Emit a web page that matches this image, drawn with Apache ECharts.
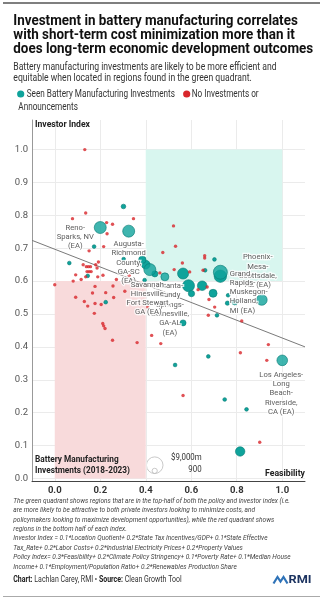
<!DOCTYPE html>
<html><head><meta charset="utf-8">
<script src="https://cdn.jsdelivr.net/npm/echarts@6/dist/echarts.min.js"></script>
<style>html,body{margin:0;padding:0;background:#fff}#c{width:324px;height:600px}</style>
</head><body><div id="c"></div>
<script>
// ---------------- DATA ----------------
const xTicks = [0.0, 0.2, 0.4, 0.6, 0.8, 1.0];
const yTicks = [0.0, 0.1, 0.2, 0.3, 0.4, 0.5, 0.6, 0.7, 0.8, 0.9, 1.0];

// regions with battery manufacturing investments: [policy/feasibility, investor index, investment $m]
const investedPoints = [
  [0.302,0.827,700],[0.173,0.705,450],[0.064,0.655,450],[0.145,0.616,450],[0.224,0.536,450],
  [0.303,0.667,450],[0.385,0.665,1800],[0.400,0.650,2500],[0.440,0.622,1200],[0.395,0.603,450],
  [0.564,0.623,4000],[0.661,0.633,450],[0.702,0.666,450],[0.728,0.615,5000],[0.588,0.586,4700],
  [0.648,0.586,3000],[0.601,0.562,1300],[0.696,0.563,2090],[0.762,0.557,450],[0.759,0.533,600],
  [0.791,0.536,1000],[0.713,0.496,450],[0.564,0.473,1175],[0.675,0.371,450],[0.529,0.345,450],
  [0.747,0.240,450],[0.843,0.210,450],[0.815,0.082,2900]
];
// labelled regions (drawn in this order)
const labelledNames = [
  'Reno-\nSparks, NV\n(EA)',
  'Augusta-\nRichmond\nCounty,\nGA-SC\n(EA)',
  'Atlanta-\nSandy\nSprings-\nGainesville,\nGA-AL\n(EA)',
  'Savannah-\nHinesville-\nFort Stewart,\nGA (EA)',
  'Phoenix-\nMesa-\nScottsdale,\nAZ (EA)',
  'Grand\nRapids-\nMuskegon-\nHolland,\nMI (EA)',
  'Los Angeles-\nLong\nBeach-\nRiverside,\nCA (EA)'
];
const labelledPoints = [
  [0.200,0.763,4700],[0.325,0.752,4700],[0.484,0.613,2090],[0.418,0.635,4700],
  [0.910,0.543,3800],[0.728,0.627,6400],[1.000,0.359,3700]
];
// regions with no investments or announcements: [feasibility, investor index]
const noInvestmentPoints = [
  [0.132,1.000],[0.136,0.807],[0.078,0.790],[0.228,0.778],[0.254,0.773],[0.346,0.790],[0.230,0.744],
  [0.151,0.692],[0.215,0.705],[0.475,0.687],[0.522,0.768],[0.531,0.706],[0.659,0.677],[0.659,0.670],
  [0.561,0.655],[0.525,0.635],[0.462,0.625],[0.593,0.628],[0.652,0.633],[0.670,0.582],[0.630,0.574],
  [0.678,0.544],[0.703,0.521],[0.675,0.496],[0.822,0.479],[0.939,0.407],[0.816,0.382],[0.932,0.359],
  [0.564,0.252],[0.901,0.110],[0.426,0.435],[0.466,0.410],[0.409,0.521],[0.362,0.413],[0.254,0.420],
  [0.211,0.471],[0.215,0.464],[0.221,0.456],[0.174,0.502],[0.145,0.524],[0.177,0.532],[0.204,0.529],
  [0.130,0.538],[0.092,0.551],[0.259,0.550],[0.166,0.564],[0.224,0.565],[0.308,0.569],[0.177,0.584],
  [0.256,0.585],[0.000,0.589],[0.081,0.600],[0.116,0.605],[0.092,0.619],[0.136,0.613],[0.189,0.613],
  [0.212,0.618],[0.271,0.605],[0.142,0.629],[0.151,0.629],[0.160,0.629],[0.125,0.650],[0.139,0.644],
  [0.148,0.644],[0.157,0.644],[0.180,0.650],[0.192,0.658],[0.186,0.640],[0.327,0.617]
];
const greenQuadrant = [[0.4, 0.6], [1.0, 1.0]];
const redQuadrant = [[0.0, 0.0], [0.4, 0.6]];
const trendLine = [[-0.1, 0.724], [1.1, 0.400]];
const bubbleLegendValues = [9000, 900];
const bubbleLegendLabels = ['$9,000m', '900'];

const titleLines = [
  'Investment in battery manufacturing correlates',
  'with short-term cost minimization more than it',
  'does long-term economic development outcomes'
];
const subtitleLines = [
  'Battery manufacturing investments are likely to be more efficient and',
  'equitable when located in regions found in the green quadrant.'
];
const noteLines = [
  'The green quadrant shows regions that are in the top-half of both the policy and investor index (i.e.',
  'are more likely to be attractive to both private investors looking to minimize costs, and',
  'policymakers looking to maximize development opportunities), while the red quadrant shows',
  'regions in the bottom half of each index.',
  'Investor Index = 0.1*Location Quotient+ 0.2*State Tax Incentives/GDP+ 0.1*State Effective',
  'Tax_Rate+ 0.2*Labor Costs+ 0.2*Industrial Electricity Prices+ 0.2*Property Values',
  'Policy Index= 0.3*Feasibility+ 0.2*Climate Policy Stringency+ 0.1*Poverty Rate+ 0.1*Median House',
  'Income+ 0.1*Employment/Population Ratio+ 0.2*Renewables Production Share'
];

// ---------------- STYLE ----------------
const TEAL = '#0fa39b', TEAL_EDGE = '#0a7c76', RED = '#d8262b';
const F = 'Roboto, "Noto Sans", sans-serif';
const ctx = document.createElement('canvas').getContext('2d');
function mw(font, s) { ctx.font = font; return ctx.measureText(s).width; }
function fitScale(font, s, target) { return target / mw(font, s); }
function diam(v) { return Math.max(3.4, 16.6 * Math.sqrt(v / 9000)); }

function textEl(x, y, text, font, fill, scale, align) {
  align = align || 'left';
  return { type: 'text', x: x, y: y, scaleX: scale || 1, silent: true, z: 100,
    style: { text: text, font: font, fill: fill, align: align, verticalAlign: 'middle',
             textAlign: align, textVerticalAlign: 'middle' } };
}

// label placement (style)
const labelStyle = [
  { offset: [-25, 9.5], align: 'center' },
  { offset: [0, 31.5], align: 'center' },
  { offset: [5, 32.5], align: 'center' },
  { offset: [-1.5, 29], align: 'center' },
  { offset: [-4, -28.5], align: 'center' },
  { offset: [9.5, 20], align: 'left' },
  { offset: [-1, 33], align: 'center' }
];
const labelFontSize = 9 * 44 / mw('9px ' + F, 'Los Angeles-');

const graphics = [];
graphics.push({ type: 'line', silent: true, shape: { x1: 3, y1: 3, x2: 320, y2: 3 }, style: { stroke: '#555', lineWidth: 1.5 } });
graphics.push({ type: 'line', silent: true, shape: { x1: 3, y1: 596.5, x2: 320, y2: 596.5 }, style: { stroke: '#aaa', lineWidth: 1 } });

// title
const tFont = 'bold 14px ' + F;
const tScale = fitScale(tFont, titleLines[0], 284.5);
[21.7, 35.5, 49.5].forEach((y, i) => graphics.push(textEl(13.3, y, titleLines[i], tFont, '#111', tScale)));
// subtitle
const sFont = '10.5px ' + F;
const sScale = fitScale(sFont, subtitleLines[0], 263.3);
[67.7, 78.7].forEach((y, i) => graphics.push(textEl(13.3, y, subtitleLines[i], sFont, '#333', sScale)));
// legend
const lFont = '10px ' + F;
const lScale = fitScale(lFont, 'Seen Battery Manufacturing Investments', 148.3);
graphics.push({ type: 'circle', silent: true, shape: { cx: 20.7, cy: 94, r: 3.6 }, style: { fill: TEAL } });
graphics.push(textEl(26.7, 94, 'Seen Battery Manufacturing Investments', lFont, '#333', lScale));
graphics.push({ type: 'circle', silent: true, shape: { cx: 186.7, cy: 94, r: 3.6 }, style: { fill: RED } });
graphics.push(textEl(191.7, 94, 'No Investments or', lFont, '#333', lScale));
graphics.push(textEl(18.3, 107.3, 'Announcements', lFont, '#333', lScale));
// axis names
const aFont = 'bold 9.5px ' + F;
graphics.push(textEl(35, 125, 'Investor Index', aFont, '#222', fitScale(aFont, 'Investor Index', 55)));
graphics.push(textEl(305, 473.3, 'Feasibility', aFont, '#222', fitScale(aFont, 'Feasibility', 40), 'right'));
// bubble size legend
const bFont = 'bold 9.5px ' + F;
const bScale = fitScale(bFont, 'Investments (2018-2023)', 95);
graphics.push(textEl(35, 459.3, 'Battery Manufacturing', bFont, '#222', bScale));
graphics.push(textEl(35, 470.7, 'Investments (2018-2023)', bFont, '#222', bScale));
const bigR = diam(bubbleLegendValues[0]) / 2, smallR = diam(bubbleLegendValues[1]) / 2;
const legBase = 473.5;
graphics.push({ type: 'circle', silent: true, shape: { cx: 154.7, cy: legBase - bigR, r: bigR }, style: { fill: 'rgba(255,255,255,0.6)', stroke: '#bbb', lineWidth: 0.8 } });
graphics.push({ type: 'circle', silent: true, shape: { cx: 154.7, cy: legBase - smallR, r: smallR }, style: { fill: 'none', stroke: '#bbb', lineWidth: 0.8 } });
const vFont = '9px ' + F;
graphics.push(textEl(201.7, 457.3, bubbleLegendLabels[0], vFont, '#333', fitScale(vFont, bubbleLegendLabels[0], 30.7), 'right'));
graphics.push(textEl(201.7, 469.3, bubbleLegendLabels[1], vFont, '#333', fitScale(vFont, bubbleLegendLabels[0], 30.7), 'right'));
// notes
const nFont = 'italic 7.5px ' + F;
const nScale = fitScale(nFont, noteLines[0], 276.7);
noteLines.forEach((s, i) => graphics.push(textEl(13.3, 501 + i * 9.4, s, nFont, '#444', nScale)));
// source
const cFontB = 'bold 8.5px ' + F, cFontR = '8.5px ' + F;
const srcW = mw(cFontB, 'Chart:') + mw(cFontR, ' Lachlan Carey, RMI • ') + mw(cFontB, 'Source:') + mw(cFontR, ' Clean Growth Tool');
graphics.push({ type: 'text', x: 13.3, y: 580, scaleX: 168.4 / srcW, silent: true,
  style: { text: '{b|Chart:}{r| Lachlan Carey, RMI • }{b|Source:}{r| Clean Growth Tool}',
    verticalAlign: 'middle', textVerticalAlign: 'middle',
    rich: { b: { font: cFontB, fill: '#222', color: '#222' }, r: { font: cFontR, fill: '#333', color: '#333' } } } });
// RMI logo
graphics.push({ type: 'polyline', silent: true, shape: { points: [[273.5, 583.5], [277.5, 577], [280.5, 581.5], [283.5, 577], [287.5, 583.5]] },
  style: { stroke: '#2f73b8', lineWidth: 2.2, fill: 'none', lineJoin: 'miter' } });
graphics.push(textEl(288.5, 580.5, 'RMI', 'bold 11px ' + F, '#1d3461', fitScale('bold 11px ' + F, 'RMI', 23)));

// ---------------- SERIES DATA ----------------
const bigFirst = investedPoints.slice().sort((a, b) => b[2] - a[2]);
const investedData = bigFirst.map(p => ({ value: p }));
const labelledData = labelledPoints.map((p, i) => ({
  value: p, name: labelledNames[i],
  label: { show: true, formatter: '{b}', position: 'inside', offset: labelStyle[i].offset, align: labelStyle[i].align,
    verticalAlign: 'middle', fontSize: labelFontSize, lineHeight: 9.3, color: '#333', fontFamily: F,
    textBorderColor: '#fff', textBorderWidth: 2.5 }
}));

const chart = echarts.init(document.getElementById('c'), null, { renderer: 'canvas' });
chart.setOption({
  animation: false,
  backgroundColor: '#fff',
  grid: { left: 32, right: 19, top: 120, bottom: 118.3, containLabel: false, outerBoundsMode: 'none' },
  xAxis: {
    type: 'value', min: -0.1, max: 1.1,
    axisLine: { show: true, onZero: false, lineStyle: { color: '#444', width: 1 } },
    axisTick: { show: false, customValues: xTicks },
    axisLabel: { customValues: xTicks, formatter: v => v.toFixed(1), color: '#333', fontWeight: 'bold', fontSize: 9.5, fontFamily: F, margin: 4 },
    splitLine: { show: true, lineStyle: { color: '#ebebeb', width: 1 } }
  },
  yAxis: {
    type: 'value', min: -0.01, max: 1.09,
    axisLine: { show: true, onZero: false, lineStyle: { color: '#999', width: 1 } },
    axisTick: { show: false, customValues: yTicks },
    axisLabel: { customValues: yTicks, formatter: v => v.toFixed(1), color: '#555', fontSize: 9.5, fontFamily: F, margin: 4 },
    splitLine: { show: true, lineStyle: { color: '#ebebeb', width: 1 } }
  },
  series: [
    { type: 'line', name: 'trend', data: trendLine, showSymbol: false, silent: true, z: 2,
      lineStyle: { color: '#7a7a7a', width: 1 },
      markArea: { silent: true, z: 1, data: [
        [{ coord: greenQuadrant[0], itemStyle: { color: '#d8f6ef' } }, { coord: greenQuadrant[1] }],
        [{ coord: redQuadrant[0], itemStyle: { color: '#f8dadb' } }, { coord: redQuadrant[1] }]
      ] } },
    { type: 'scatter', name: 'Seen Battery Manufacturing Investments', z: 3, data: investedData,
      symbolSize: v => diam(v[2]),
      itemStyle: { color: TEAL, borderColor: TEAL_EDGE, borderWidth: 0.6, opacity: 1 } },
    { type: 'scatter', name: 'No Investments or Announcements', z: 4, data: noInvestmentPoints,
      symbolSize: 3.4, itemStyle: { color: RED } },
    { type: 'scatter', name: 'labelled', z: 5, data: labelledData,
      symbolSize: v => diam(v[2]),
      itemStyle: { color: TEAL, borderColor: TEAL_EDGE, borderWidth: 0.8 } }
  ],
  graphic: { elements: graphics }
});
</script>
</body></html>
